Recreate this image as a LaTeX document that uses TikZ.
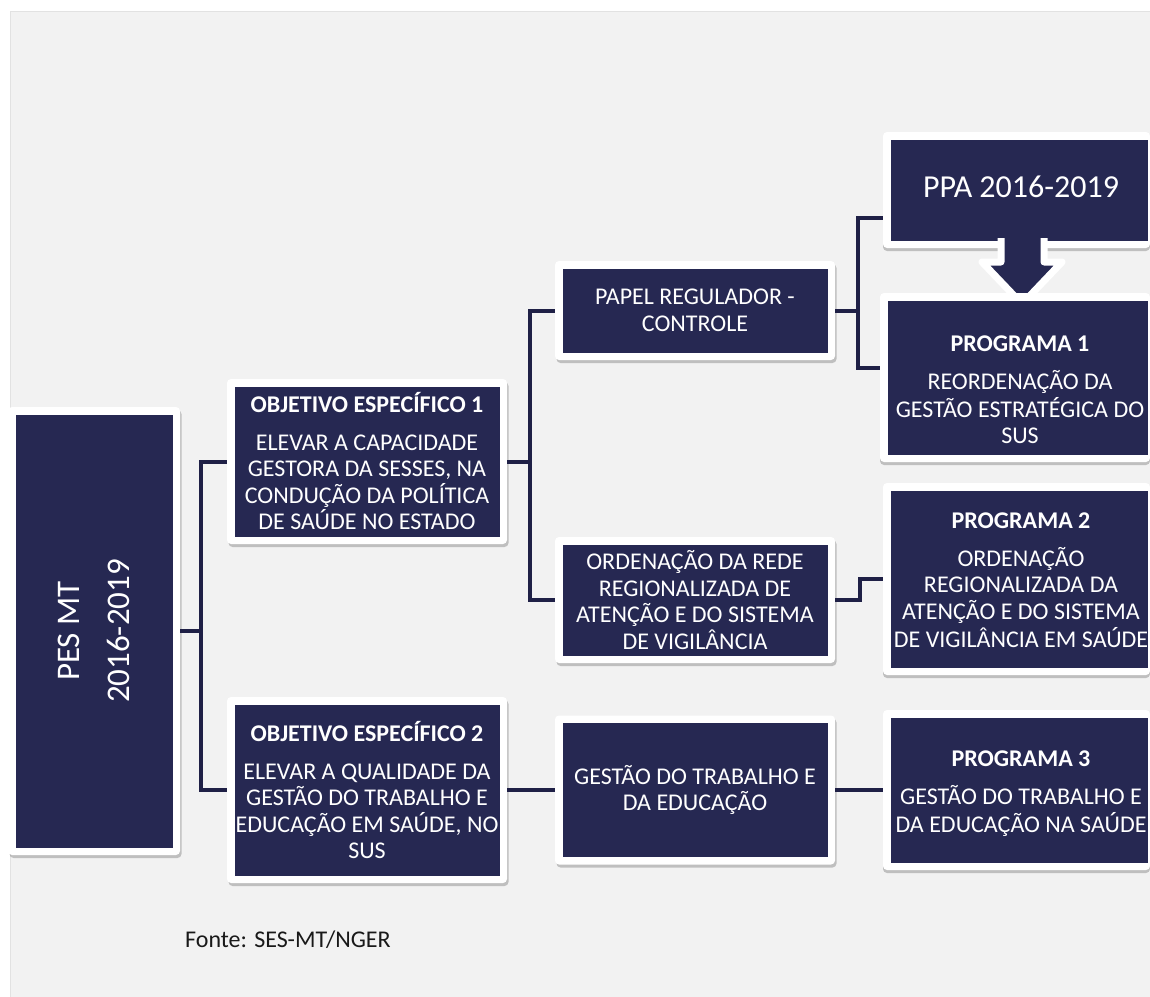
\documentclass[tikz,border=0pt]{standalone}
\usepackage{fontspec}
\setmainfont{Carlito}
\usetikzlibrary{shadows}
\definecolor{navy}{HTML}{262852}
\definecolor{conncol}{HTML}{1F2046}
\definecolor{bggray}{HTML}{F2F2F2}
\definecolor{bgedge}{HTML}{E2E2E2}
\newcommand{\shiftedtext}[2]{\hspace*{#1}\begin{tabular}{@{}c@{}}#2\end{tabular}}
\begin{document}
\begin{tikzpicture}[x=1pt,y=-1pt,
  framebox/.style={fill=white, rounded corners=4pt, inner sep=0pt,
    text=white, align=center, font=\fontsize{24}{26.5}\selectfont},
  box/.style={framebox,
    drop shadow={shadow xshift=1.5pt, shadow yshift=-3pt, opacity=0.3, fill=black!70},
    path picture={\fill[navy, sharp corners]
      ([shift={(7.5pt,-7.5pt)}]path picture bounding box.north west) rectangle
      ([shift={(-7.5pt,7.5pt)}]path picture bounding box.south east);}},
  cutbox/.style={framebox,
    drop shadow={shadow xshift=0pt, shadow yshift=-3pt, opacity=0.3, fill=black!70},
    path picture={\fill[navy, sharp corners]
      ([shift={(7.5pt,-7.5pt)}]path picture bounding box.north west) rectangle
      ([shift={(-2pt,7.5pt)}]path picture bounding box.south east);}},
  conn/.style={draw=conncol, line width=4pt},
  arrowshape/.style={fill=navy, draw=white, line width=7pt, line join=round}]
\useasboundingbox (0,0) rectangle (1150,996);
\fill[bggray] (10,11) rectangle (1200,1000);
\draw[bgedge, line width=1pt] (10.5,1000) -- (10.5,11.5) -- (1200,11.5);

% level 0
\node[box, minimum width=172pt, minimum height=448pt] (pes) at (94,631)
  {\rotatebox{90}{\fontsize{33}{50}\selectfont\begin{tabular}{@{}c@{}}PES MT\\2016-2019\end{tabular}}};

% level 1
\node[box, minimum width=280pt, minimum height=165pt] (obj1) at (367,461.5)
  {\textbf{OBJETIVO ESPECÍFICO 1}\\[11pt]ELEVAR A CAPACIDADE\\GESTORA DA SESSES, NA\\CONDUÇÃO DA POLÍTICA\\DE SAÚDE NO ESTADO};
\node[box, minimum width=280pt, minimum height=186pt] (obj2) at (367,790)
  {\textbf{OBJETIVO ESPECÍFICO 2}\\[11pt]ELEVAR A QUALIDADE DA\\GESTÃO DO TRABALHO E\\EDUCAÇÃO EM SAÚDE, NO\\SUS};

% level 2
\node[box, minimum width=280pt, minimum height=99pt] (papel) at (695,310.5)
  {PAPEL REGULADOR -\\CONTROLE};
\node[box, minimum width=280pt, minimum height=126pt] (orden) at (695,600)
  {ORDENAÇÃO DA REDE\\REGIONALIZADA DE\\ATENÇÃO E DO SISTEMA\\DE VIGILÂNCIA};
\node[box, minimum width=280pt, minimum height=149pt] (gest) at (695,790)
  {GESTÃO DO TRABALHO E\\DA EDUCAÇÃO};

% level 3 (cut by the right edge of the picture)
\node[cutbox, minimum width=267pt, minimum height=116pt, font=\fontsize{32}{38}\selectfont] (ppa) at (1016.5,190)
  {\shiftedtext{9pt}{PPA 2016-2019}};
\filldraw[arrowshape] (1001,238) -- (1001,262) -- (982,262) -- (1022,304) -- (1062,262) -- (1044,262) -- (1044,238);
\node[cutbox, minimum width=270pt, minimum height=169pt] (prog1) at (1015,377.5)
  {\shiftedtext{10pt}{\rule{0pt}{48pt}\textbf{PROGRAMA 1}\\[11pt]REORDENAÇÃO DA\\GESTÃO ESTRATÉGICA DO\\SUS}};
\node[cutbox, minimum width=267pt, minimum height=192pt] (prog2) at (1016.5,579)
  {\shiftedtext{9pt}{\rule{0pt}{26pt}\textbf{PROGRAMA 2}\\[11pt]ORDENAÇÃO\\REGIONALIZADA DA\\ATENÇÃO E DO SISTEMA\\DE VIGILÂNCIA EM SAÚDE}};
\node[cutbox, minimum width=267pt, minimum height=160pt] (prog3) at (1016.5,790)
  {\shiftedtext{9pt}{\rule{0pt}{27pt}\textbf{PROGRAMA 3}\\[11pt]GESTÃO DO TRABALHO E\\DA EDUCAÇÃO NA SAÚDE}};

% connectors
\coordinate (b1) at (201,631);
\draw[conn] (pes.east) -- (b1);
\draw[conn] (obj1.west) -| (b1);
\draw[conn] (obj2.west) -| (b1);

\coordinate (b2) at (530,461.5);
\draw[conn] (obj1.east) -- (b2);
\draw[conn] (papel.west) -| (b2);
\draw[conn] (orden.west) -| (b2);

\draw[conn] (obj2.east) -- (gest.west);
\draw[conn] (gest.east) -- (prog3.west);

\coordinate (b3) at (858,310.5);
\draw[conn] (papel.east) -- (b3);
\draw[conn] ([yshift=-28pt]ppa.west) -| (b3);
\draw[conn] ([yshift=9.5pt]prog1.west) -| (b3);

\draw[conn] (orden.east) -- ++(25,0) |- (prog2.west);

\node[anchor=base west, inner sep=0pt, font=\fontsize{24}{26}\selectfont, text=black!90] (fonte) at (185,947)
  {Fonte: SES-MT/NGER};
\end{tikzpicture}
\end{document}
